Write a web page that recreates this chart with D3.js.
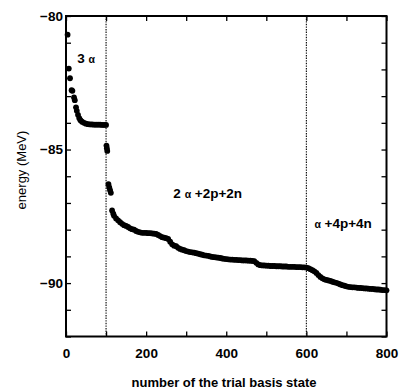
<!DOCTYPE html>
<html><head><meta charset="utf-8">
<script src="https://cdn.jsdelivr.net/npm/d3@7"></script>
<style>body{margin:0;background:#fff}svg{display:block}</style>
</head><body>
<svg id="c" width="400" height="391"></svg>
<script>
// trial basis state index and energy (MeV)
const states = [4,7,10,14,16,20,22,25,27,30,33,36,40,45,50,55,60,65,70,75,80,85,90,95,100,
101,102,103,106,108,110,112,
115,118,120,125,130,135,140,145,150,155,160,165,170,175,180,185,190,195,200,205,210,215,220,225,
230,235,240,245,250,255,260,265,270,275,280,285,290,295,300,305,310,315,320,325,330,335,
340,345,350,355,360,365,370,375,380,385,390,395,400,405,410,415,420,425,430,435,440,445,450,455,460,465,470,
475,480,485,490,495,500,505,510,515,520,525,530,535,540,545,550,555,560,565,570,575,580,585,590,595,
600,605,610,615,620,625,630,635,640,645,650,655,660,665,670,675,680,685,690,695,700,705,
710,715,720,725,730,735,740,745,750,755,760,765,770,775,780,785,790,795,800];
const energies = [-80.70,-81.97,-82.33,-82.78,-82.80,-83.05,-83.15,-83.42,-83.55,-83.70,-83.82,-83.90,-83.96,-84.00,-84.03,-84.05,-84.06,-84.06,-84.07,-84.07,-84.07,-84.07,-84.08,-84.08,-84.08,
-84.85,-84.95,-85.05,-86.30,-86.42,-86.52,-86.62,
-87.28,-87.40,-87.48,-87.58,-87.65,-87.72,-87.78,-87.83,-87.86,-87.90,-87.95,-87.98,-88.00,-88.05,-88.08,-88.10,-88.12,-88.12,-88.12,-88.13,-88.13,-88.14,-88.15,-88.16,
-88.20,-88.24,-88.28,-88.30,-88.32,-88.35,-88.45,-88.55,-88.60,-88.62,-88.68,-88.72,-88.75,-88.77,-88.80,-88.82,-88.84,-88.85,-88.86,-88.88,-88.90,-88.92,
-88.94,-88.96,-88.97,-88.98,-89.00,-89.02,-89.03,-89.04,-89.05,-89.06,-89.08,-89.09,-89.10,-89.11,-89.12,-89.12,-89.13,-89.13,-89.14,-89.14,-89.15,-89.15,-89.15,-89.16,-89.16,-89.17,-89.18,
-89.24,-89.30,-89.33,-89.34,-89.34,-89.35,-89.35,-89.36,-89.36,-89.36,-89.37,-89.37,-89.37,-89.38,-89.38,-89.38,-89.39,-89.39,-89.39,-89.39,-89.40,-89.40,-89.40,-89.41,-89.41,
-89.42,-89.44,-89.48,-89.52,-89.56,-89.62,-89.70,-89.77,-89.82,-89.86,-89.88,-89.90,-89.92,-89.95,-89.97,-89.99,-90.02,-90.05,-90.08,-90.10,-90.12,-90.14,
-90.15,-90.16,-90.16,-90.17,-90.18,-90.18,-90.19,-90.20,-90.20,-90.21,-90.22,-90.22,-90.23,-90.24,-90.24,-90.25,-90.26,-90.26,-90.27];
const xTickValues = [0,200,400,600,800];
const yTickValues = [-80,-85,-90];
const dividers = [100,600];
const regionLabels = [
  {num:"3", rest:"", n:28, e:-81.75},
  {num:"2", rest:" +2p+2n", n:268, e:-86.8},
  {num:"", rest:" +4p+4n", n:620, e:-87.95}
];

const svg = d3.select("#c");
const L=66, R=386.5, T=16, B=336.5;
const x = d3.scaleLinear().domain([0,800]).range([L,R]);
const y = d3.scaleLinear().domain([-92,-80]).range([B,T]);
const font = "'Liberation Sans', Arial, Helvetica, sans-serif";

// dotted dividers
svg.selectAll("line.div").data(dividers).join("line")
  .attr("x1",d=>x(d)).attr("x2",d=>x(d)).attr("y1",T).attr("y2",B)
  .attr("stroke","#000").attr("stroke-width",1.1).attr("stroke-dasharray","1.4,1.2");

// axes
const minorX = d3.range(0,801,100), minorY = d3.range(-92,-79,1);
const gB = svg.append("g").attr("transform",`translate(0,${B})`)
  .call(d3.axisBottom(x).tickValues(minorX).tickSize(-5).tickFormat(""));
const gT = svg.append("g").attr("transform",`translate(0,${T})`)
  .call(d3.axisTop(x).tickValues(minorX).tickSize(-5).tickFormat(""));
const gL = svg.append("g").attr("transform",`translate(${L},0)`)
  .call(d3.axisLeft(y).tickValues(minorY).tickSize(-5).tickFormat(""));
const gR = svg.append("g").attr("transform",`translate(${R},0)`)
  .call(d3.axisRight(y).tickValues(minorY).tickSize(-5).tickFormat(""));
[gB,gT,gL,gR].forEach(g=>{g.select(".domain").remove();g.selectAll(".tick line").attr("stroke","#000").attr("stroke-width",1.3);});

// tick labels
svg.append("g").attr("transform",`translate(0,${B})`)
  .call(d3.axisBottom(x).tickValues(xTickValues).tickSize(0).tickPadding(12).tickFormat(d3.format("d")))
  .call(g=>g.select(".domain").remove())
  .selectAll("text").attr("font-family",font).attr("font-size",13.5).attr("font-weight","bold").attr("fill","#000");
svg.append("g").attr("transform",`translate(${L},0)`)
  .call(d3.axisLeft(y).tickValues(yTickValues).tickSize(0).tickPadding(3).tickFormat(d=>"\u2212"+Math.abs(d)))
  .call(g=>g.select(".domain").remove())
  .selectAll("text").attr("font-family",font).attr("font-size",13.5).attr("font-weight","bold").attr("fill","#000");

// frame
svg.append("rect").attr("x",L).attr("y",T).attr("width",R-L).attr("height",B-T)
  .attr("fill","none").attr("stroke","#000").attr("stroke-width",2);

// points
svg.append("g").selectAll("circle").data(states.map((s,i)=>[s,energies[i]])).join("circle")
  .attr("cx",d=>x(d[0])).attr("cy",d=>y(d[1])).attr("r",2.9).attr("fill","#000");

// region labels
regionLabels.forEach(l=>{
  const t = svg.append("text").attr("x",x(l.n)).attr("y",y(l.e))
    .attr("font-family",font).attr("font-size",13.5).attr("font-weight","bold").attr("fill","#000");
  if(l.num) t.append("tspan").text(l.num+" ");
  t.append("tspan").attr("font-size",10.5).text("\u03b1");
  t.append("tspan").text(l.rest);
});

// axis titles
svg.append("text").attr("x",224).attr("y",387).attr("text-anchor","middle")
  .attr("font-family",font).attr("font-size",13).attr("font-weight","bold").text("number of the trial basis state");
svg.append("text").attr("transform","translate(26,170) rotate(-90)").attr("text-anchor","middle")
  .attr("font-family",font).attr("font-size",13).text("energy (MeV)");
</script>
</body></html>
